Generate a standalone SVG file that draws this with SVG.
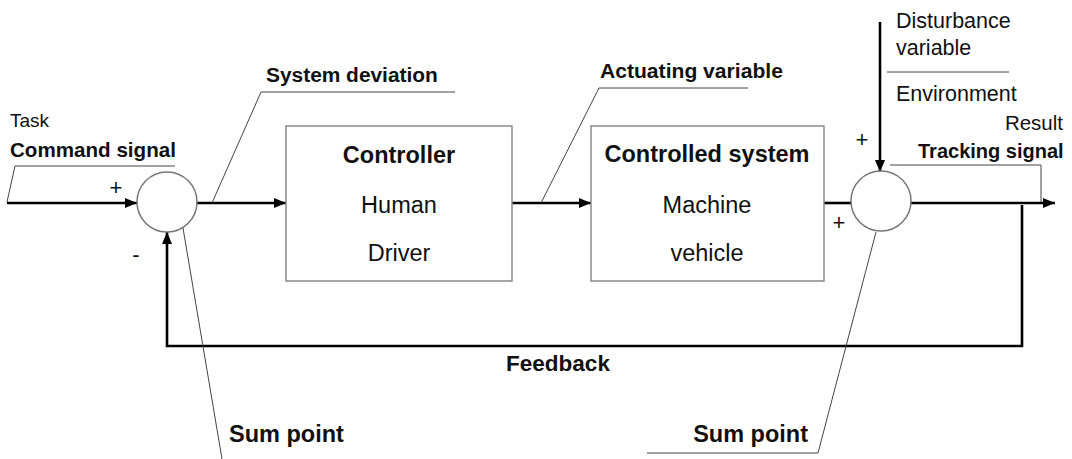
<svg xmlns="http://www.w3.org/2000/svg" width="1072" height="459" viewBox="0 0 1072 459">
<style>
  text { font-family: "Liberation Sans", Arial, sans-serif; fill: #111; }
  .b { font-weight: bold; }
  .box { fill: #fff; stroke: #8a8a8a; stroke-width: 1.5; }
  .sum { fill: #fff; stroke: #777; stroke-width: 1.5; }
  .sig { fill: none; stroke: #000; stroke-width: 2.6; }
  .lead { fill: none; stroke: #444; stroke-width: 1; }
  .mid { text-anchor: middle; }
  .end { text-anchor: end; }
  .sign { font-size: 22px; text-anchor: middle; }
</style>
<defs>
  <marker id="ah" viewBox="0 0 12 10" refX="12" refY="5" markerWidth="12" markerHeight="10" markerUnits="userSpaceOnUse" orient="auto">
    <path d="M0,0 L12,5 L0,10 Z" fill="#000"/>
  </marker>
</defs>
<rect width="1072" height="459" fill="#fff"/>

<g id="connectors">
  <line class="sig" x1="7" y1="203" x2="137" y2="203" marker-end="url(#ah)"/>
  <line class="sig" x1="197" y1="203" x2="286" y2="203" marker-end="url(#ah)"/>
  <line class="sig" x1="512" y1="203" x2="591" y2="203" marker-end="url(#ah)"/>
  <line class="sig" x1="824" y1="203" x2="851" y2="203"/>
  <line class="sig" x1="911" y1="203" x2="1055" y2="203" marker-end="url(#ah)"/>
  <line class="sig" x1="880" y1="22" x2="880" y2="172" marker-end="url(#ah)"/>
  <path class="sig" d="M1022,205 L1022,346 L167,346 L167,232" marker-end="url(#ah)"/>
</g>

<g id="leaders">
  <polyline class="lead" points="7,202 15,166 175,166"/>
  <polyline class="lead" points="212,203 261,92 455,92"/>
  <polyline class="lead" points="541,203 599,88 748,88"/>
  <line class="lead" x1="887" y1="72" x2="1009" y2="72"/>
  <polyline class="lead" points="890,165 1041,165 1041,202"/>
  <line class="lead" x1="183" y1="228" x2="222" y2="459"/>
  <polyline class="lead" points="876,232 818,453 647,453"/>
</g>

<g id="controller">
  <rect class="box" x="286" y="126" width="226" height="155"/>
  <text class="b mid" x="399" y="163" font-size="23.5">Controller</text>
  <text class="mid" x="399" y="213" font-size="23.5">Human</text>
  <text class="mid" x="399" y="261" font-size="23.5">Driver</text>
</g>

<g id="controlled-system">
  <rect class="box" x="591" y="126" width="233" height="155"/>
  <text class="b mid" x="707" y="162" font-size="23.5">Controlled system</text>
  <text class="mid" x="707" y="213" font-size="23.5">Machine</text>
  <text class="mid" x="707" y="261" font-size="23.5">vehicle</text>
</g>

<g id="sum-point-1">
  <circle class="sum" cx="167" cy="202" r="30"/>
  <text x="116" y="195" class="sign">+</text>
  <text x="136" y="262" class="sign">-</text>
</g>

<g id="sum-point-2">
  <circle class="sum" cx="881" cy="201" r="30"/>
  <text x="862" y="147" class="sign">+</text>
  <text x="839" y="230" class="sign">+</text>
</g>

<g id="labels">
  <text x="10" y="127" font-size="19">Task</text>
  <text class="b" x="10" y="157" font-size="20.6">Command signal</text>
  <text class="b" x="266" y="82" font-size="20.9">System deviation</text>
  <text class="b" x="600" y="78" font-size="21.1">Actuating variable</text>
  <text x="896" y="28" font-size="21.5">Disturbance</text>
  <text x="896" y="55" font-size="21.5">variable</text>
  <text x="896" y="101" font-size="21.5">Environment</text>
  <text class="end" x="1063" y="130" font-size="20.5">Result</text>
  <text class="b" x="918" y="158" font-size="20">Tracking signal</text>
  <text class="b mid" x="558" y="371" font-size="22.5">Feedback</text>
  <text class="b" x="229" y="442" font-size="23.5">Sum point</text>
  <text class="b end" x="808" y="442" font-size="23.5">Sum point</text>
</g>
</svg>
